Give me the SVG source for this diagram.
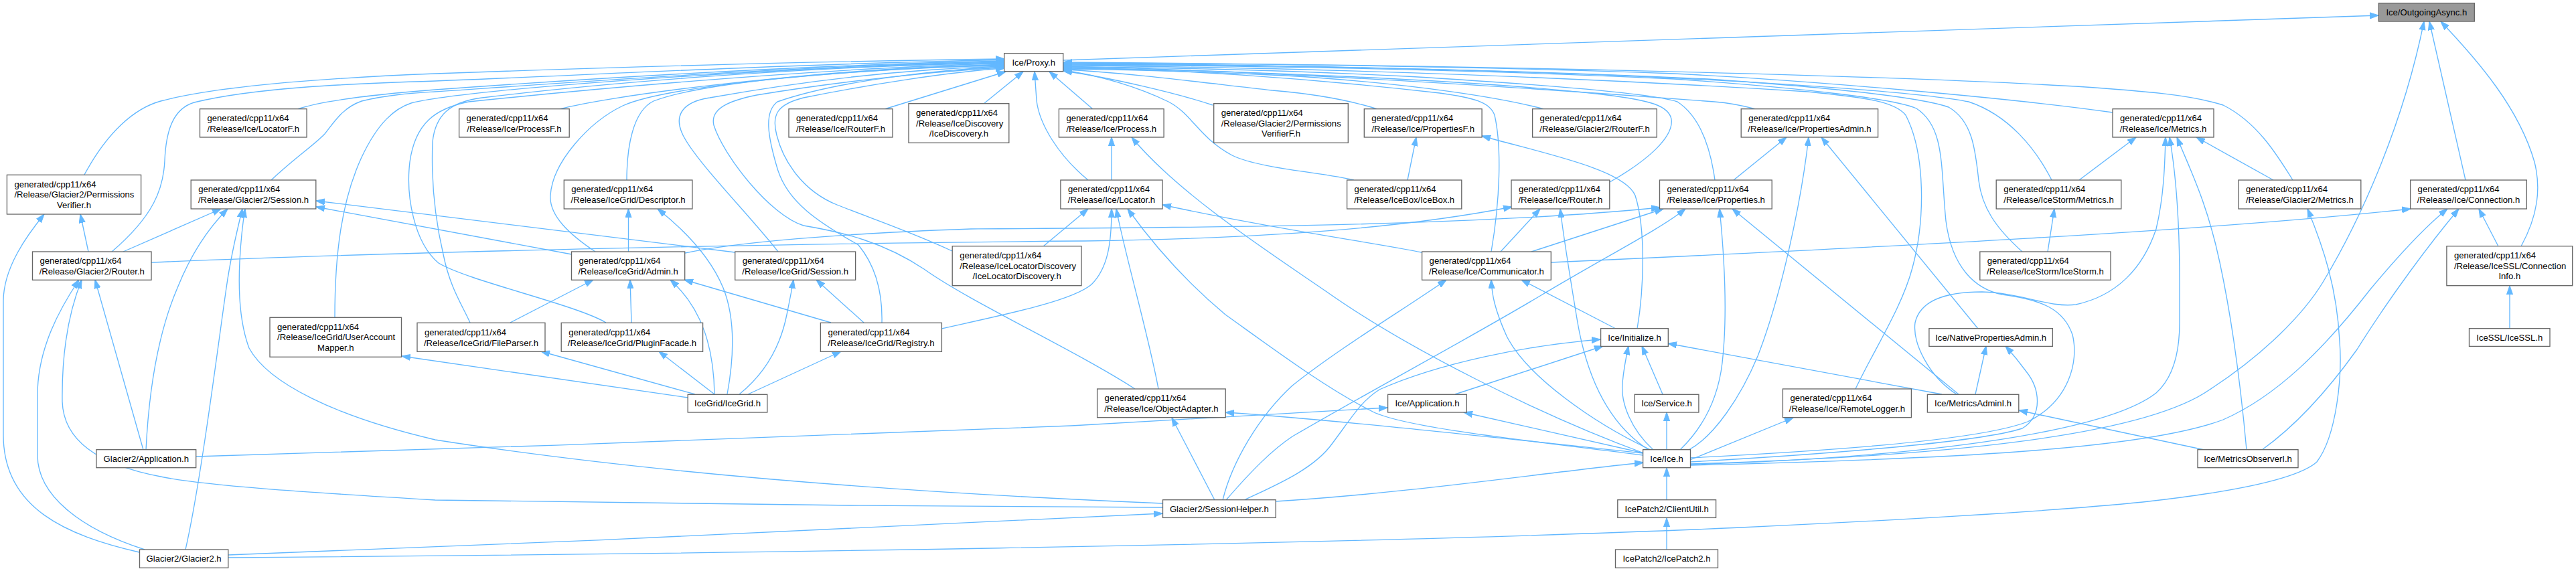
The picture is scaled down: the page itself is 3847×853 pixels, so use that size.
<svg xmlns="http://www.w3.org/2000/svg" width="3847" height="853" viewBox="0 0 3847 853">
<style>
.n{fill:#fff;stroke:#666;stroke-width:1.33}
.r{fill:#999;stroke:#666;stroke-width:1.33}
text{font-family:"Liberation Sans",Arial,Helvetica,sans-serif;font-size:13.1px;fill:#000}
.m{text-anchor:middle}
.e path{fill:none;stroke:#63b8ff;stroke-width:1.33;marker-end:url(#a)}
</style>
<defs>
<marker id="a" markerWidth="14" markerHeight="10" refX="13" refY="5" orient="auto" markerUnits="userSpaceOnUse">
<path d="M0,0.4 L13.3,5 L0,9.6 z" fill="#63b8ff" stroke="#63b8ff" stroke-width="1"/>
</marker>
</defs>
<rect width="3847" height="853" fill="#fff"/>
<g class="e" id="edges">
<path d="M1588,90 L3552,23"/>
<path d="M126,261 C160,198 200,162 240,151 C330,127 500,116 650,110 C900,101 1200,92 1500,88"/>
<path d="M167,376 C230,322 244,282 246,240 C248,192 260,162 290,153 C380,131 520,125 650,121 C900,111 1200,95 1500,89.5"/>
<path d="M444,163 C480,151 560,141 650,134 C900,116 1200,97 1500,91"/>
<path d="M405,269 C440,236 470,216 485,200 C500,181 512,161 540,151 C580,141 620,139 650,137 C900,120 1200,98 1500,92"/>
<path d="M500,474 C500,380 510,300 540,235 C565,182 590,162 614,154 C700,131 1200,99 1500,93"/>
<path d="M702,482 C690,455 672,430 662,380 C648,320 644,262 646,212 C650,172 672,152 720,146 C900,124 1200,99 1500,94"/>
<path d="M905,482 C860,455 700,420 655,393 C618,362 606,292 612,242 C620,184 650,162 700,152 C1000,121 1300,99 1500,95"/>
<path d="M835,163 C900,146 1150,108 1500,96"/>
<path d="M936,269 C936,220 945,166 976,151 C1050,122 1300,100 1500,97"/>
<path d="M889,376 C850,350 820,322 822,292 C825,242 880,182 930,158 C1000,126 1300,101 1500,98"/>
<path d="M1162,376 C1120,322 1040,242 1020,202 C1005,172 1020,152 1060,146 C1200,121 1350,103 1500,99"/>
<path d="M1317,482 C1318,440 1310,400 1282,366 C1222,332 1176,302 1161,252 C1146,202 1141,167 1161,152 C1250,121 1400,104 1500,100"/>
<path d="M1695,581 C1600,520 1450,452 1380,402 C1320,362 1260,347 1200,337 C1150,322 1080,232 1066,187 C1060,162 1090,150 1130,142 C1250,122 1400,106 1500,101"/>
<path d="M1422,375 C1360,346 1300,326 1250,306 C1200,286 1170,242 1160,202 C1152,172 1160,156 1200,146 C1300,126 1420,107 1500,102"/>
<path d="M1321,163 L1502,107"/>
<path d="M1469,155 L1528,107"/>
<path d="M1625,269 C1580,232 1552,185 1548,150 L1545,107"/>
<path d="M1632,163 L1567,107"/>
<path d="M1811,157 C1760,140 1660,116 1588,106"/>
<path d="M2022,269 C1980,258 1880,252 1840,232 C1790,205 1780,170 1745,152 C1700,130 1640,112 1588,105"/>
<path d="M2057,163 C2010,148 1960,140 1900,135 C1800,124 1680,108 1588,104"/>
<path d="M2306,163 C2250,148 2120,125 1920,113 C1800,107 1680,104 1588,103"/>
<path d="M2404,272 C2460,240 2500,205 2496,178 C2492,158 2465,150 2400,142 C2200,118 1800,104 1588,102"/>
<path d="M2227,376 C2240,300 2243,220 2232,172 C2225,152 2200,146 2150,139 C1950,116 1750,103 1588,101"/>
<path d="M2561,269 C2555,225 2540,175 2505,152 C2470,140 2300,126 2100,114 C1900,104 1700,100 1588,100"/>
<path d="M2622,163 C2600,157 2585,154 2560,152 C2300,132 1900,106 1588,99"/>
<path d="M2771,581 C2800,520 2840,460 2856,400 C2875,330 2876,230 2846,172 C2830,152 2790,146 2700,137 C2300,112 1900,100 1588,98"/>
<path d="M2524,684 C2700,675 2950,660 3028,630 C3090,600 3105,540 3095,500 C3082,462 3050,448 2990,440 C2950,432 2915,400 2906,330 C2898,250 2905,190 2862,162 C2830,148 2700,132 2500,118 C2200,104 1900,98 1588,97"/>
<path d="M3020,376 C2980,340 2960,310 2955,270 C2950,222 2945,180 2910,160 C2870,146 2750,132 2550,118 C2250,104 1900,97 1588,96"/>
<path d="M3064,269 C3040,222 3000,172 2940,152 C2880,140 2700,125 2400,112 C2100,101 1850,96 1588,95"/>
<path d="M3155,168 C3000,146 2700,120 2500,110 C2200,99 1900,95 1588,94"/>
<path d="M3424,269 C3400,230 3370,182 3320,157 C3270,141 3200,136 3100,129 C2800,112 2200,97 1588,93"/>
<path d="M132,376 L120,320"/>
<path d="M208,825 C100,800 5,760 5,650 L5,450 C5,400 40,352 66,320"/>
<path d="M184,376 L330,312"/>
<path d="M216,821 C120,790 56,740 56,680 L56,590 C56,520 90,460 118,418"/>
<path d="M1736,758 C1400,757 900,752 650,747 C450,735 300,725 240,712 C150,695 95,660 93,600 C92,520 105,460 122,418"/>
<path d="M214,672 L142,418"/>
<path d="M218,672 C222,590 235,500 265,430 C285,380 310,342 340,312"/>
<path d="M277,821 C300,720 325,520 338,430 C345,380 355,340 362,312"/>
<path d="M1736,752 C1400,738 1000,712 650,657 C500,622 400,572 372,520 C357,480 356,430 358,390 C360,352 363,330 366,312"/>
<path d="M854,380 L472,309"/>
<path d="M1098,377 L472,300"/>
<path d="M226,392 C600,376 1200,363 1620,360 C1900,356 2100,340 2258,309"/>
<path d="M1023,378 C1100,362 1250,349 1450,342 C1800,340 2200,338 2479,310"/>
<path d="M938.5,376 L938.5,312"/>
<path d="M1086,589 C1095,540 1100,480 1080,430 C1060,382 1020,342 982,312"/>
<path d="M762,482 L886,418"/>
<path d="M943,482 L941,418"/>
<path d="M1067,589 C1066,522 1050,462 1001,418"/>
<path d="M1241,482 L1022,418"/>
<path d="M1117,589 L1256,525"/>
<path d="M1104,589 C1140,560 1165,520 1175,470 C1180,445 1183,430 1185,418"/>
<path d="M1290,482 L1219,418"/>
<path d="M1038,589 L808,525"/>
<path d="M1067,589 L984,525"/>
<path d="M1027,594 L600,532"/>
<path d="M1406,491 C1500,470 1600,450 1630,425 C1655,400 1660,362 1660,312"/>
<path d="M1558,368 L1625,312"/>
<path d="M1730,581 C1715,500 1680,380 1667,312"/>
<path d="M2454,680 C2300,660 2100,640 2050,615 C1980,580 1900,520 1830,470 C1770,420 1720,362 1684,312"/>
<path d="M2123,377 C2050,362 1900,342 1736,306"/>
<path d="M1660,269 L1660,205"/>
<path d="M2455,677 C2300,620 2100,520 1980,435 C1900,380 1760,290 1690,205"/>
<path d="M1814,747 L1750,624"/>
<path d="M2454,677 C2200,650 2000,628 1830,616"/>
<path d="M293,682 C700,670 1300,650 1600,636 C1800,626 1950,617 2072,609"/>
<path d="M341,829 C800,812 1300,790 1736,767"/>
<path d="M341,833 C1000,828 2000,815 2600,788 C2900,774 3100,760 3200,750 C3380,730 3440,708 3460,690 C3490,650 3498,560 3494,510 C3490,430 3470,370 3446,312"/>
<path d="M1826,747 C1840,690 1880,622 1930,576 C2000,520 2100,460 2160,418"/>
<path d="M1831,747 C1870,702 1900,672 1930,652 C2050,582 2200,502 2300,442 C2400,382 2480,342 2517,312"/>
<path d="M1858,747 C1900,727 1962,702 1990,662 C2020,622 2032,600 2060,582 C2150,542 2280,516 2390,507"/>
<path d="M1905,749 C2100,737 2300,707 2454,691"/>
<path d="M2173,589 L2394,517"/>
<path d="M2483,589 L2452,517"/>
<path d="M2469,672 C2436,642 2420,602 2423,572 C2425,550 2428,535 2432,517"/>
<path d="M2455,677 L2186,616"/>
<path d="M2489,672 L2489,616"/>
<path d="M2489,747 L2489,699"/>
<path d="M2489,821 L2489,774"/>
<path d="M2413,491 L2272,418"/>
<path d="M2445,491 C2455,432 2458,342 2442,292 C2425,252 2300,228 2213,203"/>
<path d="M2465,672 C2380,632 2280,562 2250,502 C2232,462 2228,440 2227,418"/>
<path d="M2462,672 C2400,632 2370,562 2356,482 C2346,422 2336,362 2330,312"/>
<path d="M2241,376 L2300,312"/>
<path d="M2287,376 L2484,312"/>
<path d="M2316,392 C2800,370 3300,345 3600,312"/>
<path d="M2509,672 C2540,642 2565,602 2572,542 C2580,472 2575,382 2568,312"/>
<path d="M2925,589 L2587,312"/>
<path d="M2589,269 L2668,205"/>
<path d="M2522,672 C2560,652 2600,592 2625,532 C2660,442 2690,302 2701,205"/>
<path d="M2954,491 L2720,205"/>
<path d="M2524,687 L2678,624"/>
<path d="M2950,589 L2966,517"/>
<path d="M2524,690 C2700,680 2952,662 3020,640 C3052,620 3046,580 3026,555 C3015,540 3005,528 2995,517"/>
<path d="M2900,589 L2491,513"/>
<path d="M2922,589 C2880,562 2856,512 2860,482 C2868,447 2910,436 2960,436 C3020,438 3060,460 3100,455 C3160,442 3200,402 3220,342 C3232,292 3233,242 3234,205"/>
<path d="M3292,672 L3015,613"/>
<path d="M3355,672 C3345,562 3330,462 3315,392 C3296,302 3270,252 3251,205"/>
<path d="M2524,694 C2900,682 3150,642 3220,587 C3248,562 3255,522 3255,482 L3255,422 C3255,332 3250,262 3240,205"/>
<path d="M2524,693 C2900,682 3200,652 3300,582 C3380,530 3440,470 3470,420 C3530,320 3590,180 3620,32"/>
<path d="M2524,695 C2900,686 3200,672 3320,627 C3400,592 3470,522 3540,432 C3590,372 3630,332 3655,312"/>
<path d="M3378,672 C3420,642 3470,592 3520,522 C3570,442 3630,362 3672,312"/>
<path d="M3682,269 L3628,32"/>
<path d="M3765,368 C3790,322 3795,282 3785,242 C3762,162 3702,92 3645,32"/>
<path d="M3731,368 L3702,312"/>
<path d="M3748,491 L3748,427"/>
<path d="M3395,269 L3280,205"/>
<path d="M3105,269 L3190,205"/>
<path d="M3058,376 L3068,312"/>
<path d="M2102,269 L2115,205"/>
</g>
<g id="n_outgoing"><rect class="r" x="3552.3" y="4.7" width="143" height="27.3"/><text class="m" x="3623.8" y="23">Ice/OutgoingAsync.h</text></g>
<g id="n_proxy"><rect class="n" x="1499.7" y="79.7" width="88" height="27"/><text class="m" x="1543.7" y="98">Ice/Proxy.h</text></g>
<g id="n_locatorf"><rect class="n" x="298.5" y="162.7" width="159.6" height="42.3"/><text x="309.5" y="181">generated/cpp11/x64</text><text class="m" x="378.3" y="197">/Release/Ice/LocatorF.h</text></g>
<g id="n_processf"><rect class="n" x="685.6" y="162.7" width="164.6" height="42.3"/><text x="696.6" y="181">generated/cpp11/x64</text><text class="m" x="767.9" y="197">/Release/Ice/ProcessF.h</text></g>
<g id="n_routerf"><rect class="n" x="1178" y="162.7" width="155" height="42.3"/><text x="1189" y="181">generated/cpp11/x64</text><text class="m" x="1255.5" y="197">/Release/Ice/RouterF.h</text></g>
<g id="n_icediscovery"><rect class="n" x="1357" y="154.7" width="149.8" height="58.7"/><text x="1368" y="173">generated/cpp11/x64</text><text x="1368" y="188.7">/Release/IceDiscovery</text><text class="m" x="1431.9" y="204.2">/IceDiscovery.h</text></g>
<g id="n_process"><rect class="n" x="1581.4" y="162.7" width="156.7" height="42.3"/><text x="1592.4" y="181">generated/cpp11/x64</text><text class="m" x="1659.8" y="197">/Release/Ice/Process.h</text></g>
<g id="n_pvf"><rect class="n" x="1812.7" y="154.7" width="200.6" height="58.7"/><text x="1823.7" y="173">generated/cpp11/x64</text><text x="1823.7" y="188.7">/Release/Glacier2/Permissions</text><text class="m" x="1913" y="204.2">VerifierF.h</text></g>
<g id="n_propertiesf"><rect class="n" x="2037.3" y="162.7" width="175.8" height="42.3"/><text x="2048.3" y="181">generated/cpp11/x64</text><text class="m" x="2125.2" y="197">/Release/Ice/PropertiesF.h</text></g>
<g id="n_g2routerf"><rect class="n" x="2288.6" y="162.7" width="185.7" height="42.3"/><text x="2299.6" y="181">generated/cpp11/x64</text><text class="m" x="2381.5" y="197">/Release/Glacier2/RouterF.h</text></g>
<g id="n_propertiesadmin"><rect class="n" x="2600.2" y="162.7" width="204.4" height="42.3"/><text x="2611.2" y="181">generated/cpp11/x64</text><text class="m" x="2702.4" y="197">/Release/Ice/PropertiesAdmin.h</text></g>
<g id="n_icemetrics"><rect class="n" x="3155" y="162.7" width="151" height="42.3"/><text x="3166" y="181">generated/cpp11/x64</text><text class="m" x="3230.5" y="197">/Release/Ice/Metrics.h</text></g>
<g id="n_pv"><rect class="n" x="10.4" y="261.3" width="200.2" height="58.7"/><text x="21.4" y="279.6">generated/cpp11/x64</text><text x="21.4" y="295.3">/Release/Glacier2/Permissions</text><text class="m" x="110.5" y="310.8">Verifier.h</text></g>
<g id="n_g2session"><rect class="n" x="285.2" y="269" width="186.6" height="43"/><text x="296.2" y="287.3">generated/cpp11/x64</text><text class="m" x="378.5" y="303.2">/Release/Glacier2/Session.h</text></g>
<g id="n_descriptor"><rect class="n" x="842.3" y="269" width="191.6" height="43"/><text x="853.3" y="287.3">generated/cpp11/x64</text><text class="m" x="938.1" y="303.2">/Release/IceGrid/Descriptor.h</text></g>
<g id="n_locator"><rect class="n" x="1583.9" y="269" width="152.1" height="43"/><text x="1594.9" y="287.3">generated/cpp11/x64</text><text class="m" x="1660" y="303.2">/Release/Ice/Locator.h</text></g>
<g id="n_icebox"><rect class="n" x="2011.6" y="269" width="171.2" height="43"/><text x="2022.6" y="287.3">generated/cpp11/x64</text><text class="m" x="2097.2" y="303.2">/Release/IceBox/IceBox.h</text></g>
<g id="n_icerouter"><rect class="n" x="2257" y="269" width="146.8" height="43"/><text x="2268" y="287.3">generated/cpp11/x64</text><text class="m" x="2330.4" y="303.2">/Release/Ice/Router.h</text></g>
<g id="n_properties"><rect class="n" x="2478.5" y="269" width="167.7" height="43"/><text x="2489.5" y="287.3">generated/cpp11/x64</text><text class="m" x="2562.4" y="303.2">/Release/Ice/Properties.h</text></g>
<g id="n_stormmetrics"><rect class="n" x="2981.2" y="269" width="186.6" height="43"/><text x="2992.2" y="287.3">generated/cpp11/x64</text><text class="m" x="3074.5" y="303.2">/Release/IceStorm/Metrics.h</text></g>
<g id="n_g2metrics"><rect class="n" x="3343" y="269" width="182.8" height="43"/><text x="3354" y="287.3">generated/cpp11/x64</text><text class="m" x="3434.4" y="303.2">/Release/Glacier2/Metrics.h</text></g>
<g id="n_connection"><rect class="n" x="3599.6" y="269" width="173.7" height="43"/><text x="3610.6" y="287.3">generated/cpp11/x64</text><text class="m" x="3686.5" y="303.2">/Release/Ice/Connection.h</text></g>
<g id="n_g2router"><rect class="n" x="48.5" y="376" width="177.5" height="42.3"/><text x="59.5" y="394.3">generated/cpp11/x64</text><text class="m" x="137.3" y="410.2">/Release/Glacier2/Router.h</text></g>
<g id="n_gridadmin"><rect class="n" x="853.5" y="376" width="169.2" height="42.3"/><text x="864.5" y="394.3">generated/cpp11/x64</text><text class="m" x="938.1" y="410.2">/Release/IceGrid/Admin.h</text></g>
<g id="n_gridsession"><rect class="n" x="1097.7" y="376" width="179.9" height="42.3"/><text x="1108.7" y="394.3">generated/cpp11/x64</text><text class="m" x="1187.7" y="410.2">/Release/IceGrid/Session.h</text></g>
<g id="n_locdisc"><rect class="n" x="1422.2" y="367.7" width="192.8" height="59"/><text x="1433.2" y="386">generated/cpp11/x64</text><text x="1433.2" y="401.7">/Release/IceLocatorDiscovery</text><text class="m" x="1518.6" y="417.3">/IceLocatorDiscovery.h</text></g>
<g id="n_communicator"><rect class="n" x="2123.6" y="376" width="192.7" height="42.3"/><text x="2134.6" y="394.3">generated/cpp11/x64</text><text class="m" x="2220" y="410.2">/Release/Ice/Communicator.h</text></g>
<g id="n_icestorm"><rect class="n" x="2956.8" y="376" width="195.2" height="42.3"/><text x="2967.8" y="394.3">generated/cpp11/x64</text><text class="m" x="3054.4" y="410.2">/Release/IceStorm/IceStorm.h</text></g>
<g id="n_conninfo"><rect class="n" x="3653.9" y="367.7" width="187.8" height="59"/><text x="3664.9" y="386">generated/cpp11/x64</text><text x="3664.9" y="401.7">/Release/IceSSL/Connection</text><text class="m" x="3747.8" y="417.3">Info.h</text></g>
<g id="n_uam"><rect class="n" x="403" y="474.3" width="196.5" height="59"/><text x="414" y="492.7">generated/cpp11/x64</text><text x="414" y="508.4">/Release/IceGrid/UserAccount</text><text class="m" x="501.3" y="524">Mapper.h</text></g>
<g id="n_fileparser"><rect class="n" x="623" y="482.3" width="191" height="43"/><text x="634" y="500.6">generated/cpp11/x64</text><text class="m" x="718.5" y="516.5">/Release/IceGrid/FileParser.h</text></g>
<g id="n_pluginfacade"><rect class="n" x="838.2" y="482.3" width="211.4" height="43"/><text x="849.2" y="500.6">generated/cpp11/x64</text><text class="m" x="943.9" y="516.5">/Release/IceGrid/PluginFacade.h</text></g>
<g id="n_registry"><rect class="n" x="1225.4" y="482.3" width="181" height="43"/><text x="1236.4" y="500.6">generated/cpp11/x64</text><text class="m" x="1315.9" y="516.5">/Release/IceGrid/Registry.h</text></g>
<g id="n_initialize"><rect class="n" x="2390.6" y="490.7" width="100.7" height="26.7"/><text class="m" x="2441" y="508.7">Ice/Initialize.h</text></g>
<g id="n_nativepa"><rect class="n" x="2880.9" y="490.7" width="184.5" height="26.7"/><text class="m" x="2973.2" y="508.7">Ice/NativePropertiesAdmin.h</text></g>
<g id="n_icessl"><rect class="n" x="3687.5" y="490.7" width="120.5" height="26.7"/><text class="m" x="3747.8" y="508.7">IceSSL/IceSSL.h</text></g>
<g id="n_objadapter"><rect class="n" x="1638.6" y="581" width="191.6" height="42.7"/><text x="1649.6" y="599.2">generated/cpp11/x64</text><text class="m" x="1734.4" y="615.1">/Release/Ice/ObjectAdapter.h</text></g>
<g id="n_remotelogger"><rect class="n" x="2662.4" y="581" width="192" height="42.7"/><text x="2673.4" y="599.2">generated/cpp11/x64</text><text class="m" x="2758.4" y="615.1">/Release/Ice/RemoteLogger.h</text></g>
<g id="n_icegridh"><rect class="n" x="1027.2" y="589.3" width="118.6" height="26.7"/><text class="m" x="1086.5" y="607.3">IceGrid/IceGrid.h</text></g>
<g id="n_iceapp"><rect class="n" x="2072.6" y="589.3" width="117.7" height="26.7"/><text class="m" x="2131.5" y="607.3">Ice/Application.h</text></g>
<g id="n_service"><rect class="n" x="2441.1" y="589.3" width="95.8" height="26.7"/><text class="m" x="2489" y="607.3">Ice/Service.h</text></g>
<g id="n_metricsadmin"><rect class="n" x="2878.4" y="589.3" width="136.4" height="26.7"/><text class="m" x="2946.6" y="607.3">Ice/MetricsAdminI.h</text></g>
<g id="n_g2app"><rect class="n" x="143.9" y="671.7" width="148.8" height="27"/><text class="m" x="218.3" y="689.7">Glacier2/Application.h</text></g>
<g id="n_iceh"><rect class="n" x="2453.6" y="671.7" width="70.9" height="27"/><text class="m" x="2489" y="689.7">Ice/Ice.h</text></g>
<g id="n_metricsobs"><rect class="n" x="3282" y="671.7" width="150" height="27"/><text class="m" x="3357" y="689.7">Ice/MetricsObserverI.h</text></g>
<g id="n_sessionhelper"><rect class="n" x="1736.5" y="746.7" width="168.7" height="26.7"/><text class="m" x="1820.8" y="764.7">Glacier2/SessionHelper.h</text></g>
<g id="n_clientutil"><rect class="n" x="2415.8" y="746.7" width="146.8" height="26.7"/><text class="m" x="2489.2" y="764.7">IcePatch2/ClientUtil.h</text></g>
<g id="n_glacier2h"><rect class="n" x="208.5" y="821" width="132.3" height="27.3"/><text class="m" x="274.6" y="839">Glacier2/Glacier2.h</text></g>
<g id="n_icepatch2"><rect class="n" x="2412.5" y="821" width="153" height="27.3"/><text class="m" x="2489" y="839">IcePatch2/IcePatch2.h</text></g>
</svg>
